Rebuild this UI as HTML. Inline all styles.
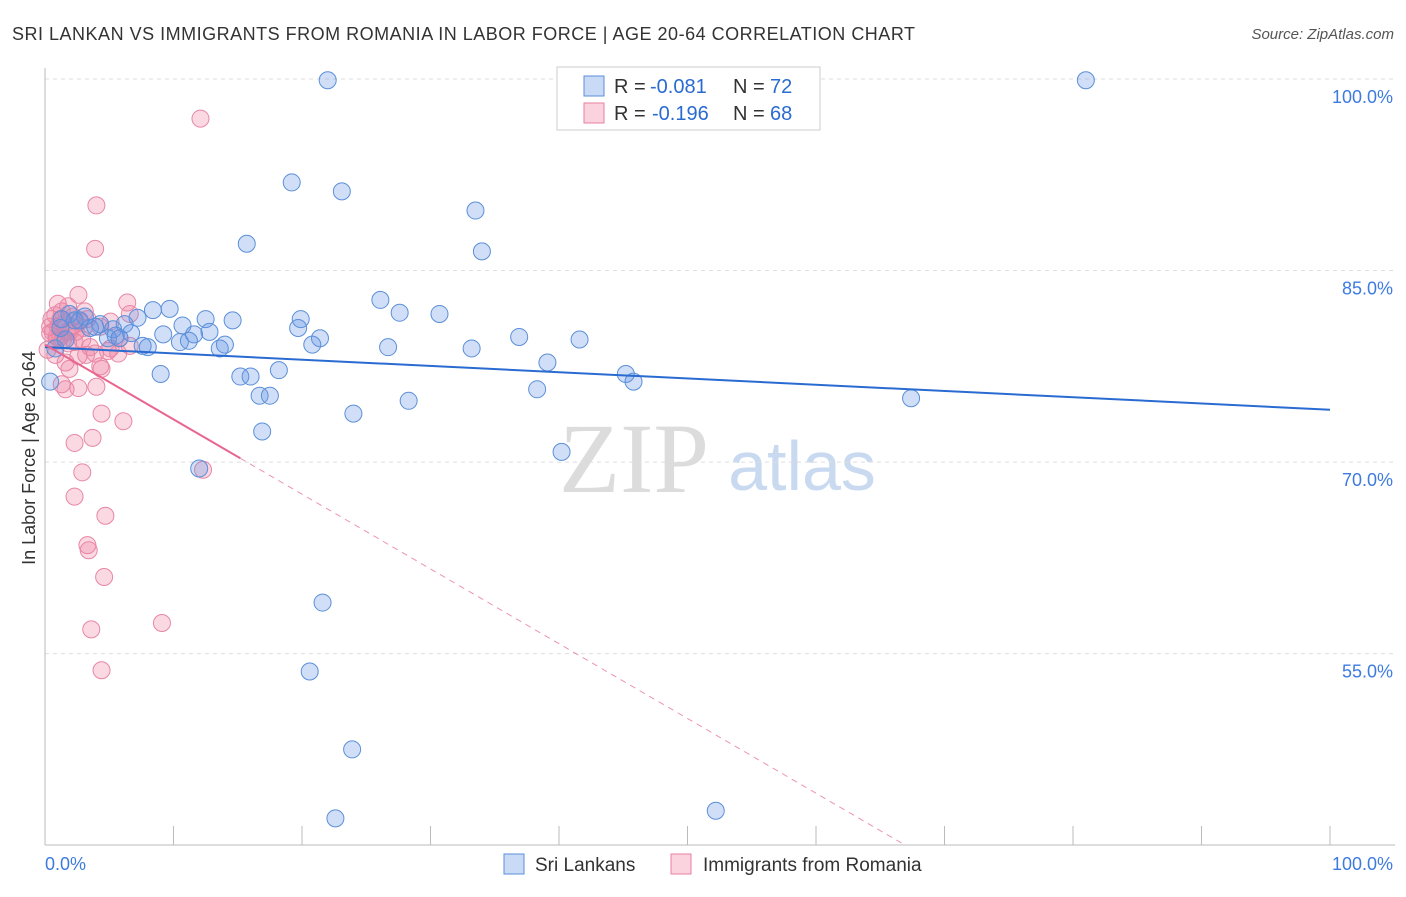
<!DOCTYPE html>
<html><head><meta charset="utf-8"><style>
body{margin:0;background:#fff;font-family:"Liberation Sans",sans-serif}
svg text{font-family:"Liberation Sans",sans-serif}
</style></head><body>
<svg id="chart" width="1406" height="892">
<text x="12" y="40" font-size="18" textLength="903" fill="#333">SRI LANKAN VS IMMIGRANTS FROM ROMANIA IN LABOR FORCE | AGE 20-64 CORRELATION CHART</text>
<text x="1394" y="39" font-size="15" fill="#555" font-style="italic" text-anchor="end">Source: ZipAtlas.com</text>
<text x="35" y="458" font-size="18" fill="#333" text-anchor="middle" transform="rotate(-90 35 458)">In Labor Force | Age 20-64</text>
<text x="634" y="492" font-size="100" fill="#dcdcdc" style="font-family:'Liberation Serif',serif" text-anchor="middle">ZIP</text>
<text x="802" y="490" font-size="70" fill="#c9daf0" text-anchor="middle">atlas</text>
<g id="grid"></g><g id="marks"></g>
<g>
<rect x="557" y="67" width="263" height="63" fill="#fff" stroke="#ccc"/>
<rect x="584" y="76" width="20" height="20" fill="rgba(100,150,230,0.35)" stroke="#5b8fd8"/>
<rect x="584" y="103" width="20" height="20" fill="rgba(240,130,160,0.35)" stroke="#e87fa0"/>
<text x="614" y="93" font-size="20" fill="#333">R =</text><text x="650" y="93" font-size="20" fill="#2a6bd1">-0.081</text>
<text x="733" y="93" font-size="20" fill="#333">N =</text><text x="770" y="93" font-size="20" fill="#2a6bd1">72</text>
<text x="614" y="120" font-size="20" fill="#333">R =</text><text x="652" y="120" font-size="20" fill="#2a6bd1">-0.196</text>
<text x="733" y="120" font-size="20" fill="#333">N =</text><text x="770" y="120" font-size="20" fill="#2a6bd1">68</text>
</g>
<g>
<rect x="504" y="854" width="20" height="20" fill="rgba(100,150,230,0.35)" stroke="#5b8fd8"/>
<text x="535" y="871" font-size="19" fill="#333">Sri Lankans</text>
<rect x="671" y="854" width="20" height="20" fill="rgba(240,130,160,0.35)" stroke="#e87fa0"/>
<text x="703" y="871" font-size="19" fill="#333">Immigrants from Romania</text>
</g>
</svg>
<script>
const yTicks=[100,85,70,55];
const xTickLabels=["0.0%","100.0%"];
const blueX=[22,81,19.2,23.1,33.5,15.7,34,26.1,27.6,30.7,19.9,19.7,21.4,20.8,26.7,33.2,36.9,41.6,39.1,38.3,45.2,45.8,67.4,28.3,24.0,16.9,40.2,12.0,21.6,20.6,23.9,22.6,52.2,8.4,9.7,7.2,6.2,4.3,5.3,6.7,9.2,10.7,12.5,14.6,11.6,10.5,11.2,12.8,8.0,7.6,14.0,13.6,4.9,5.5,3.5,2.7,3.1,1.2,0.8,9.0,15.2,16.0,18.2,16.7,17.5,1.9,2.3,3.9,0.4,5.8,1.3,1.6];
const blueY=[99.9,99.9,91.9,91.2,89.7,87.1,86.5,82.7,81.7,81.6,81.2,80.5,79.7,79.2,79.0,78.9,79.8,79.6,77.8,75.7,76.9,76.3,75.0,74.8,73.8,72.4,70.8,69.5,59.0,53.6,47.5,42.1,42.7,81.9,82.0,81.3,80.8,80.8,80.4,80.1,80.0,80.7,81.2,81.1,80.0,79.4,79.5,80.2,79.0,79.1,79.2,78.9,79.7,79.9,80.5,81.1,81.4,80.5,78.9,76.9,76.7,76.7,77.2,75.2,75.2,81.6,81.1,80.6,76.3,79.7,81.2,79.6];
const pinkX=[12.1,4.0,3.9,2.6,6.4,1.0,1.8,3.1,0.8,1.2,1.6,2.1,0.4,0.6,0.9,1.4,2.3,2.7,3.3,4.3,5.1,6.6,0.2,0.8,1.6,2.6,3.9,4.9,5.7,1.9,4.3,1.3,1.6,2.6,4.0,4.4,6.1,4.4,3.7,2.3,2.9,12.3,2.3,4.7,3.3,3.4,4.6,3.6,9.1,4.4,0.5,1.0,1.3,1.9,2.9,3.5,0.4,0.9,1.8,2.2,1.7,2.4,3.0,1.2,3.2,5.1,5.8,6.6];
const pinkY=[96.9,90.1,86.7,83.1,82.5,82.4,82.2,81.8,81.5,81.2,80.9,80.6,80.6,80.2,79.8,79.6,79.4,81.0,81.2,80.6,81.0,81.6,78.8,78.4,77.8,78.3,78.5,78.7,78.5,77.3,77.5,76.1,75.7,75.8,75.9,77.3,73.2,73.8,71.9,71.5,69.2,69.4,67.3,65.8,63.5,63.1,61.0,56.9,57.4,53.7,81.2,80.6,81.8,80.2,79.6,79.0,80.1,79.5,79.3,81.4,80.2,80.2,80.5,79.8,78.4,78.9,79.7,79.1];
const blueTrend=[79.0,74.1];
const pinkTrend=[79.2,70.3,15.2];
const X0=45,X1=1330,Y100=79,PPU=12.77;
const xs=v=>X0+v*(X1-X0)/100, ys=v=>Y100+(100-v)*PPU;
const NS="http://www.w3.org/2000/svg";
const g=document.getElementById('grid'),m=document.getElementById('marks');
function mk(tag,at,parent){const e=document.createElementNS(NS,tag);for(const k in at)e.setAttribute(k,at[k]);parent.appendChild(e);return e;}
yTicks.forEach(t=>{
 const l=mk('line',{x1:X0,x2:1395,y1:ys(t),y2:ys(t),stroke:'#ddd','stroke-dasharray':'4 4'},g);
 
 
 const tx=mk('text',{x:1393,y:ys(t)+24,'font-size':18,fill:'#3d7be0','text-anchor':'end'},g);tx.textContent=t.toFixed(1)+'%';
 
 
});
const ax=mk('line',{x1:X0,x2:X0,y1:68,y2:845,stroke:'#bbb'},g);


const bx=mk('line',{x1:X0,x2:1395,y1:845,y2:845,stroke:'#bbb'},g);


for(let i=0;i<=10;i++){const t=mk('line',{x1:xs(i*10),x2:xs(i*10),y1:826,y2:845,stroke:'#bbb'},g);
 
 }
const xl0=mk('text',{x:45,y:870,'font-size':18,fill:'#3d7be0'},g);xl0.textContent=xTickLabels[0];


const xl1=mk('text',{x:1393,y:870,'font-size':18,fill:'#3d7be0','text-anchor':'end'},g);xl1.textContent=xTickLabels[1];


pinkX.forEach((v,i)=>{const c=mk('circle',{cx:xs(v),cy:ys(pinkY[i]),r:8.5,fill:'rgba(240,130,160,0.3)',stroke:'#e887a6','stroke-width':1},m);
 
 });
blueX.forEach((v,i)=>{const c=mk('circle',{cx:xs(v),cy:ys(blueY[i]),r:8.5,fill:'rgba(100,150,230,0.3)',stroke:'#5b8fd8','stroke-width':1},m);
 
 });
const bt=mk('line',{x1:xs(0),y1:ys(blueTrend[0]),x2:xs(100),y2:ys(blueTrend[1]),stroke:'#2a6bd1','stroke-width':2},m);


const slope=(pinkTrend[1]-pinkTrend[0])/pinkTrend[2];
const pt=mk('line',{x1:xs(0),y1:ys(pinkTrend[0]),x2:xs(pinkTrend[2]),y2:ys(pinkTrend[1]),stroke:'#e8668f','stroke-width':2},m);


const xEnd=(40-pinkTrend[0])/slope;
const pd=mk('line',{x1:xs(pinkTrend[2]),y1:ys(pinkTrend[1]),x2:xs(xEnd),y2:ys(40),stroke:'#e8668f','stroke-width':1,'stroke-dasharray':'6 5',opacity:0.7},m);


</script>
</body></html>
